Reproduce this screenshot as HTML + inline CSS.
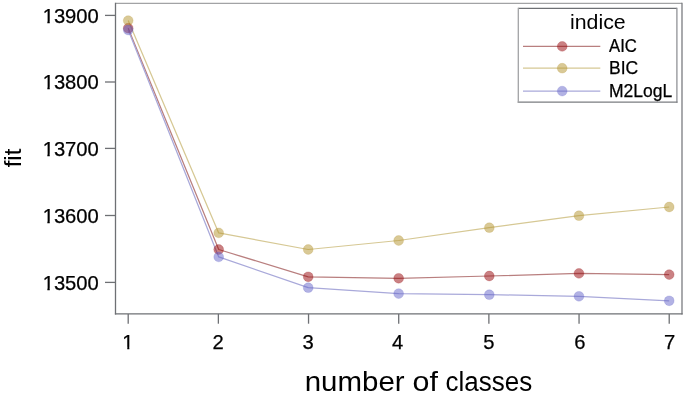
<!DOCTYPE html>
<html><head><meta charset="utf-8"><title>fit by number of classes</title>
<style>
html,body{margin:0;padding:0;background:#fff;}
body{width:685px;height:395px;overflow:hidden;}
svg{display:block;filter:blur(0.4px);}
text{font-family:"Liberation Sans",Arial,sans-serif;fill:#000;}
.tk,.lg{stroke:#000;stroke-width:0.25px;}
.tk{font-size:20.2px;}
.xl{font-size:28px;}
.yl{font-size:23.9px;}
.lt{font-size:20.7px;}
.lg{font-size:17.5px;}
</style></head><body>
<svg width="685" height="395" viewBox="0 0 685 395">
<rect width="685" height="395" fill="#fff"/>
<line x1="115.5" y1="3.3" x2="682" y2="3.3" stroke="#a2a3a5" stroke-width="1.3"/>
<line x1="682" y1="2.7" x2="682" y2="314.5" stroke="#7a7c80" stroke-width="1.3"/>
<line x1="114.9" y1="313.9" x2="682.6" y2="313.9" stroke="#6e7074" stroke-width="1.3"/>
<line x1="115.5" y1="2.7" x2="115.5" y2="314.5" stroke="#6e7074" stroke-width="1.3"/>
<line x1="105" y1="15.4" x2="115.5" y2="15.4" stroke="#6e7074" stroke-width="1.3"/>
<text transform="translate(98.8,22.8)" text-anchor="end" class="tk">13900</text>
<line x1="105" y1="82" x2="115.5" y2="82" stroke="#6e7074" stroke-width="1.3"/>
<text transform="translate(98.8,89.4)" text-anchor="end" class="tk">13800</text>
<line x1="105" y1="148.4" x2="115.5" y2="148.4" stroke="#6e7074" stroke-width="1.3"/>
<text transform="translate(98.8,155.8)" text-anchor="end" class="tk">13700</text>
<line x1="105" y1="215.5" x2="115.5" y2="215.5" stroke="#6e7074" stroke-width="1.3"/>
<text transform="translate(98.8,222.9)" text-anchor="end" class="tk">13600</text>
<line x1="105" y1="282.4" x2="115.5" y2="282.4" stroke="#6e7074" stroke-width="1.3"/>
<text transform="translate(98.8,289.8)" text-anchor="end" class="tk">13500</text>
<line x1="128.2" y1="313.9" x2="128.2" y2="323.7" stroke="#6e7074" stroke-width="1.3"/>
<text transform="translate(127.9,348.8)" text-anchor="middle" class="tk">1</text>
<line x1="218.37" y1="313.9" x2="218.37" y2="323.7" stroke="#6e7074" stroke-width="1.3"/>
<text transform="translate(218,348.8)" text-anchor="middle" class="tk">2</text>
<line x1="308.54" y1="313.9" x2="308.54" y2="323.7" stroke="#6e7074" stroke-width="1.3"/>
<text transform="translate(308.1,348.8)" text-anchor="middle" class="tk">3</text>
<line x1="398.71" y1="313.9" x2="398.71" y2="323.7" stroke="#6e7074" stroke-width="1.3"/>
<text transform="translate(397.7,348.8)" text-anchor="middle" class="tk">4</text>
<line x1="488.88" y1="313.9" x2="488.88" y2="323.7" stroke="#6e7074" stroke-width="1.3"/>
<text transform="translate(488.9,348.8)" text-anchor="middle" class="tk">5</text>
<line x1="579.05" y1="313.9" x2="579.05" y2="323.7" stroke="#6e7074" stroke-width="1.3"/>
<text transform="translate(579.75,348.8)" text-anchor="middle" class="tk">6</text>
<line x1="669.22" y1="313.9" x2="669.22" y2="323.7" stroke="#6e7074" stroke-width="1.3"/>
<text transform="translate(669.6,348.8)" text-anchor="middle" class="tk">7</text>
<polyline points="128.2,28.2 218.7,249.5 308.2,276.8 398.65,278.3 489.3,276 578.95,273.4 669.2,274.6" fill="none" stroke="#b97f7f" stroke-opacity="1" stroke-width="1.25" stroke-linejoin="round"/>
<polyline points="128.2,20.6 218.7,232.9 308.2,249.5 398.65,240.5 489.3,227.7 578.95,215.7 669.2,207" fill="none" stroke="#d6c894" stroke-opacity="1" stroke-width="1.25" stroke-linejoin="round"/>
<polyline points="128.2,30 218.7,256.9 308.2,287.7 398.65,293.6 489.3,294.7 578.95,296.3 669.2,300.8" fill="none" stroke="#a9a9da" stroke-opacity="1" stroke-width="1.25" stroke-linejoin="round"/>
<circle cx="128.2" cy="28.2" r="4.9" fill="#960408" fill-opacity="0.5" stroke="#960408" stroke-opacity="0.2" stroke-width="1"/><circle cx="218.7" cy="249.5" r="4.9" fill="#960408" fill-opacity="0.5" stroke="#960408" stroke-opacity="0.2" stroke-width="1"/><circle cx="308.2" cy="276.8" r="4.9" fill="#960408" fill-opacity="0.5" stroke="#960408" stroke-opacity="0.2" stroke-width="1"/><circle cx="398.65" cy="278.3" r="4.9" fill="#960408" fill-opacity="0.5" stroke="#960408" stroke-opacity="0.2" stroke-width="1"/><circle cx="489.3" cy="276" r="4.9" fill="#960408" fill-opacity="0.5" stroke="#960408" stroke-opacity="0.2" stroke-width="1"/><circle cx="578.95" cy="273.4" r="4.9" fill="#960408" fill-opacity="0.5" stroke="#960408" stroke-opacity="0.2" stroke-width="1"/><circle cx="669.2" cy="274.6" r="4.9" fill="#960408" fill-opacity="0.5" stroke="#960408" stroke-opacity="0.2" stroke-width="1"/>
<circle cx="128.2" cy="20.6" r="4.9" fill="#b3932d" fill-opacity="0.5" stroke="#b3932d" stroke-opacity="0.2" stroke-width="1"/><circle cx="218.7" cy="232.9" r="4.9" fill="#b3932d" fill-opacity="0.5" stroke="#b3932d" stroke-opacity="0.2" stroke-width="1"/><circle cx="308.2" cy="249.5" r="4.9" fill="#b3932d" fill-opacity="0.5" stroke="#b3932d" stroke-opacity="0.2" stroke-width="1"/><circle cx="398.65" cy="240.5" r="4.9" fill="#b3932d" fill-opacity="0.5" stroke="#b3932d" stroke-opacity="0.2" stroke-width="1"/><circle cx="489.3" cy="227.7" r="4.9" fill="#b3932d" fill-opacity="0.5" stroke="#b3932d" stroke-opacity="0.2" stroke-width="1"/><circle cx="578.95" cy="215.7" r="4.9" fill="#b3932d" fill-opacity="0.5" stroke="#b3932d" stroke-opacity="0.2" stroke-width="1"/><circle cx="669.2" cy="207" r="4.9" fill="#b3932d" fill-opacity="0.5" stroke="#b3932d" stroke-opacity="0.2" stroke-width="1"/>
<circle cx="128.2" cy="30" r="4.9" fill="#6565c9" fill-opacity="0.5" stroke="#6565c9" stroke-opacity="0.2" stroke-width="1"/><circle cx="218.7" cy="256.9" r="4.9" fill="#6565c9" fill-opacity="0.5" stroke="#6565c9" stroke-opacity="0.2" stroke-width="1"/><circle cx="308.2" cy="287.7" r="4.9" fill="#6565c9" fill-opacity="0.5" stroke="#6565c9" stroke-opacity="0.2" stroke-width="1"/><circle cx="398.65" cy="293.6" r="4.9" fill="#6565c9" fill-opacity="0.5" stroke="#6565c9" stroke-opacity="0.2" stroke-width="1"/><circle cx="489.3" cy="294.7" r="4.9" fill="#6565c9" fill-opacity="0.5" stroke="#6565c9" stroke-opacity="0.2" stroke-width="1"/><circle cx="578.95" cy="296.3" r="4.9" fill="#6565c9" fill-opacity="0.5" stroke="#6565c9" stroke-opacity="0.2" stroke-width="1"/><circle cx="669.2" cy="300.8" r="4.9" fill="#6565c9" fill-opacity="0.5" stroke="#6565c9" stroke-opacity="0.2" stroke-width="1"/>
<rect x="43.4" y="20.9" width="3.95" height="3.2" fill="#fff"/>
<rect x="49.75" y="20.9" width="3.95" height="3.2" fill="#fff"/>
<rect x="43.4" y="86.9" width="3.95" height="3.2" fill="#fff"/>
<rect x="49.75" y="86.9" width="3.95" height="3.2" fill="#fff"/>
<rect x="43.4" y="153.9" width="3.95" height="3.2" fill="#fff"/>
<rect x="49.75" y="153.9" width="3.95" height="3.2" fill="#fff"/>
<rect x="43.4" y="220.9" width="3.95" height="3.2" fill="#fff"/>
<rect x="49.75" y="220.9" width="3.95" height="3.2" fill="#fff"/>
<rect x="43.4" y="287.9" width="3.95" height="3.2" fill="#fff"/>
<rect x="49.75" y="287.9" width="3.95" height="3.2" fill="#fff"/>
<rect x="122.4" y="346.9" width="4.85" height="3.2" fill="#fff"/>
<rect x="129.35" y="346.9" width="4.25" height="3.2" fill="#fff"/>
<text transform="translate(304.71,391.3) scale(1.0528,1)" class="xl">number</text>
<text transform="translate(412.51,391.3) scale(1.0861,1)" class="xl">of</text>
<text transform="translate(445.59,391.3) scale(0.9286,1)" class="xl">classes</text>
<text transform="translate(21,158) rotate(-90)" text-anchor="middle" class="yl">fit</text>
<rect x="518.3" y="8.4" width="158.6" height="93.7" fill="#fff"/>
<line x1="518.3" y1="8.4" x2="676.9" y2="8.4" stroke="#6e7074" stroke-width="1.3"/>
<line x1="676.9" y1="7.8" x2="676.9" y2="102.7" stroke="#909296" stroke-width="1.3"/>
<line x1="517.7" y1="102.1" x2="677.5" y2="102.1" stroke="#7a7c80" stroke-width="1.3"/>
<line x1="518.3" y1="7.8" x2="518.3" y2="102.7" stroke="#a2a3a5" stroke-width="1.3"/>
<text transform="translate(597.8,28.8) scale(1.03,1)" text-anchor="middle" class="lt">indice</text>
<line x1="523" y1="46.4" x2="600.3" y2="46.4" stroke="#b97f7f" stroke-opacity="1" stroke-width="1.25"/>
<circle cx="562.2" cy="46.4" r="4.9" fill="#960408" fill-opacity="0.5" stroke="#960408" stroke-opacity="0.2" stroke-width="1"/>
<text transform="translate(609,52) scale(0.955,1)" class="lg">AIC</text>
<line x1="523" y1="68.2" x2="600.3" y2="68.2" stroke="#d6c894" stroke-opacity="1" stroke-width="1.25"/>
<circle cx="562.2" cy="68.2" r="4.9" fill="#b3932d" fill-opacity="0.5" stroke="#b3932d" stroke-opacity="0.2" stroke-width="1"/>
<text transform="translate(609,74)" class="lg">BIC</text>
<line x1="523" y1="91.1" x2="600.3" y2="91.1" stroke="#a9a9da" stroke-opacity="1" stroke-width="1.25"/>
<circle cx="562.2" cy="91.1" r="4.9" fill="#6565c9" fill-opacity="0.5" stroke="#6565c9" stroke-opacity="0.2" stroke-width="1"/>
<text transform="translate(609,96.8)" class="lg">M2LogL</text>
</svg>
</body></html>
